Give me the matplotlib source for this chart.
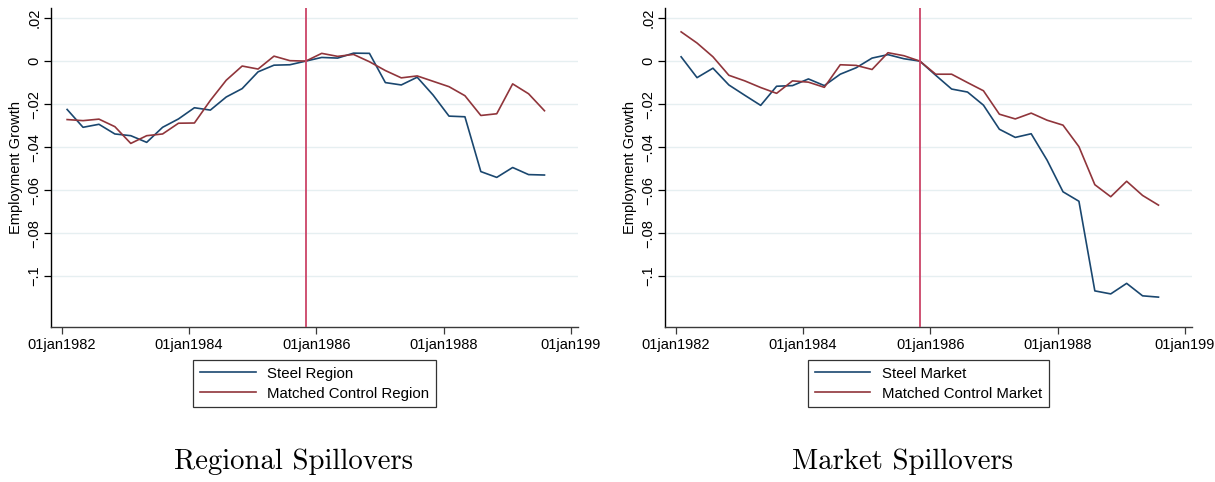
import numpy as np
import matplotlib
matplotlib.use("Agg")
import matplotlib.pyplot as plt
from matplotlib.ticker import FixedLocator, FixedFormatter

# Quarterly observations, dated 01feb1982 ... 01aug1989 (decimal years)
n_quarters = 31
dates = 1982 + 1 / 12 + 0.25 * np.arange(n_quarters)
event_date = 1985 + 10 / 12  # 01nov1985, normalisation quarter

steel_region = [
    -0.0225, -0.0308, -0.0294, -0.0339, -0.0347, -0.0378, -0.0308, -0.0269,
    -0.0217, -0.0228, -0.0167, -0.0128, -0.0050, -0.0019, -0.0017, 0.0000,
    0.0017, 0.0014, 0.0037, 0.0036, -0.0100, -0.0111, -0.0075, -0.0158,
    -0.0256, -0.0259, -0.0514, -0.0541, -0.0495, -0.0528, -0.0530,
]
control_region = [
    -0.0272, -0.0277, -0.0270, -0.0305, -0.0383, -0.0347, -0.0339, -0.0289,
    -0.0288, -0.0183, -0.0089, -0.0023, -0.0037, 0.0023, 0.0002, 0.0000,
    0.0036, 0.0022, 0.0031, -0.0003, -0.0044, -0.0078, -0.0069, -0.0094,
    -0.0119, -0.0161, -0.0253, -0.0245, -0.0106, -0.0152, -0.0231,
]
steel_market = [
    0.0020, -0.0077, -0.0033, -0.0111, -0.0159, -0.0206, -0.0117, -0.0114,
    -0.0083, -0.0114, -0.0061, -0.0031, 0.0014, 0.0030, 0.0011, 0.0000,
    -0.0066, -0.0130, -0.0144, -0.0205, -0.0317, -0.0355, -0.0338, -0.0461,
    -0.0608, -0.0652, -0.1069, -0.1083, -0.1034, -0.1092, -0.1098,
]
control_market = [
    0.0136, 0.0084, 0.0020, -0.0066, -0.0092, -0.0123, -0.0150, -0.0092,
    -0.0098, -0.0122, -0.0017, -0.0020, -0.0039, 0.0039, 0.0025, 0.0000,
    -0.0061, -0.0061, -0.0100, -0.0138, -0.0247, -0.0269, -0.0242, -0.0275,
    -0.0298, -0.0398, -0.0575, -0.0631, -0.0559, -0.0625, -0.0670,
]

x_ticks = [1982, 1984, 1986, 1988, 1990]
x_tick_labels = ["01jan1982", "01jan1984", "01jan1986", "01jan1988", "01jan199"]
y_ticks = [0.02, 0.0, -0.02, -0.04, -0.06, -0.08, -0.10]
y_tick_labels = [".02", "0", "\u2212.02", "\u2212.04", "\u2212.06", "\u2212.08", "\u2212.1"]

panels = [
    ("Regional Spillovers", "Steel Region", "Matched Control Region",
     steel_region, control_region),
    ("Market Spillovers", "Steel Market", "Matched Control Market",
     steel_market, control_market),
]

NAVY = "#1a476f"
MAROON = "#90353b"
VLINE = "#cc4468"
GRID = "#e6eff1"
AXIS = "#3a3a3a"

plt.rcParams["font.family"] = ["Liberation Sans", "DejaVu Sans"]

W, H = 1215, 482
fig = plt.figure(figsize=(W / 100, H / 100), dpi=100)

ax_left_px = [51, 665]
ax_width_px = 527
ax_top_px, ax_bottom_px = 8, 327
caption_x_px = [293, 902]

for i, (caption, lab_a, lab_b, ya, yb) in enumerate(panels):
    left = ax_left_px[i] / W
    bottom = 1 - ax_bottom_px / H
    ax = fig.add_axes([left, bottom, ax_width_px / W, (ax_bottom_px - ax_top_px) / H])

    ax.plot(dates, ya, color=NAVY, lw=1.2, label=lab_a, zorder=3)
    ax.plot(dates, yb, color=MAROON, lw=1.2, label=lab_b, zorder=3)
    ax.axvline(event_date, color=VLINE, lw=1.3, zorder=4)

    ax.set_xlim(1981.83, 1990.11)
    ax.set_ylim(-0.1237, 0.0247)

    ax.yaxis.set_major_locator(FixedLocator(y_ticks))
    ax.yaxis.set_major_formatter(FixedFormatter(y_tick_labels))
    ax.xaxis.set_major_locator(FixedLocator(x_ticks))
    ax.xaxis.set_major_formatter(FixedFormatter(x_tick_labels))

    ax.grid(axis="y", color=GRID, lw=1.0, zorder=0)
    ax.set_axisbelow(True)

    for side in ("top", "right"):
        ax.spines[side].set_visible(False)
    ax.spines["left"].set_color("black")
    ax.spines["bottom"].set_color(AXIS)
    ax.spines["left"].set_linewidth(1.0)
    ax.spines["bottom"].set_linewidth(1.0)

    ax.tick_params(axis="y", direction="out", length=5, width=0.9,
                   labelsize=10.5, pad=2, labelrotation=90, color="black")
    for t in ax.get_yticklabels():
        t.set_verticalalignment("center")
    ax.tick_params(axis="x", direction="out", length=5, width=0.9,
                   labelsize=10.5, pad=3, color=AXIS)

    ax.set_ylabel("Employment Growth", fontsize=10.5, labelpad=3)

    leg = ax.legend(loc="upper center", bbox_to_anchor=(0.5, -0.103),
                    ncol=1, frameon=True, fancybox=False, fontsize=10.8,
                    handlelength=3.7, handletextpad=0.75, borderpad=0.45,
                    labelspacing=0.4, borderaxespad=0)
    leg.get_frame().set_edgecolor("black")
    leg.get_frame().set_linewidth(0.9)

    fig.text(caption_x_px[i] / W, 1 - 462 / H, caption, ha="center", va="center",
             fontsize=20.7, family="cmr10")

fig.savefig("out.png", dpi=100, facecolor="white")
